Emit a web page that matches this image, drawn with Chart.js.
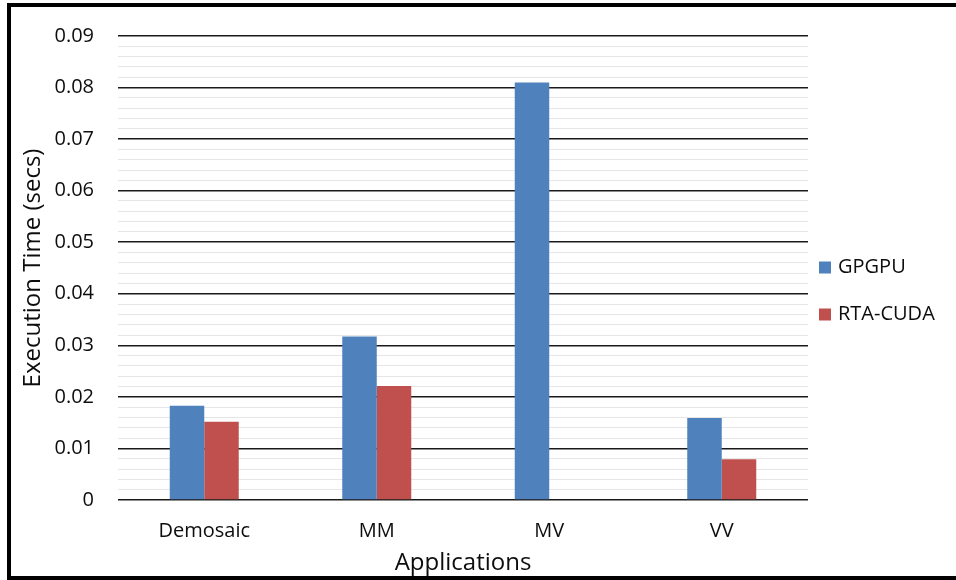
<!DOCTYPE html>
<html>
<head>
<meta charset="utf-8">
<script src="https://cdn.jsdelivr.net/npm/chart.js@4/dist/chart.umd.min.js"></script>
<style>
  html, body { margin: 0; padding: 0; background: #fff; overflow: hidden; }
  #wrap { position: relative; width: 956px; height: 580px; }
  #chart { position: absolute; left: 0; top: 0; }
  /* outer frame, open on the right side */
  #frame { position: absolute; left: 7px; top: 3px; width: 1000px; height: 569px;
           border: 4px solid #000; pointer-events: none; }
</style>
</head>
<body>
<div id="wrap">
  <canvas id="chart" width="956" height="580"></canvas>
  <div id="frame"></div>
</div>
<script>
const categories = ['Demosaic', 'MM', 'MV', 'VV'];
const gpgpu = [0.0183, 0.0317, 0.081, 0.0159];
const rtaCuda = [0.0152, 0.0221, null, 0.0079];
const yTicks = ['0', '0.01', '0.02', '0.03', '0.04', '0.05', '0.06', '0.07', '0.08', '0.09'];

const FONT = "'Open Sans', 'DejaVu Sans', sans-serif";
const isMajor = v => Math.round(v * 1000) % 10 === 0;

// legend drawn to the right of the plot, centred on the canvas height
const sideLegend = {
  id: 'sideLegend',
  afterDraw(chart) {
    const ctx = chart.ctx;
    const x = chart.chartArea.right + 11;
    const mid = chart.height / 2 + 1;
    ctx.save();
    ctx.font = '20px ' + FONT;
    ctx.textBaseline = 'middle';
    chart.data.datasets.forEach((ds, i) => {
      const y = mid + (i - 0.5) * 47;
      ctx.fillStyle = ds.backgroundColor;
      ctx.fillRect(x, y - 6, 12, 12);
      ctx.fillStyle = '#0d0d0d';
      ctx.fillText(ds.label, x + 19, y);
    });
    ctx.restore();
  }
};

new Chart(document.getElementById('chart'), {
  type: 'bar',
  data: {
    labels: categories,
    datasets: [
      { label: 'GPGPU', data: gpgpu, backgroundColor: '#4F81BD' },
      { label: 'RTA-CUDA', data: rtaCuda, backgroundColor: '#C0504D' }
    ]
  },
  options: {
    responsive: false,
    animation: false,
    layout: { padding: { top: 33, right: 148, left: 0, bottom: 0 } },
    datasets: { bar: { categoryPercentage: 0.4, barPercentage: 1 } },
    plugins: { legend: { display: false }, tooltip: { enabled: false } },
    scales: {
      x: {
        grid: { display: false },
        border: { display: false },
        ticks: { color: '#0d0d0d', font: { family: FONT, size: 20 }, padding: 11 },
        title: { display: true, text: 'Applications', color: '#0d0d0d',
                 font: { family: FONT, size: 24 }, padding: { bottom: 2 } },
        afterFit: s => { s.height = 80; }
      },
      y: {
        min: 0, max: 0.09,
        border: { display: false },
        grid: {
          drawTicks: false,
          color: c => isMajor(c.tick.value) ? '#1a1a1a' : '#e6e6e6',
          lineWidth: c => isMajor(c.tick.value) ? 1.6 : 1
        },
        ticks: {
          stepSize: 0.002, autoSkip: false, padding: 24, color: '#0d0d0d',
          font: { family: FONT, size: 20 },
          callback: v => isMajor(v) ? yTicks[Math.round(v * 100)] : ''
        },
        title: { display: true, text: 'Execution Time (secs)', color: '#0d0d0d',
                 font: { family: FONT, size: 24 }, padding: { top: 19 } },
        afterFit: s => { s.width = 118; }
      }
    }
  },
  plugins: [sideLegend]
});
</script>
</body>
</html>
